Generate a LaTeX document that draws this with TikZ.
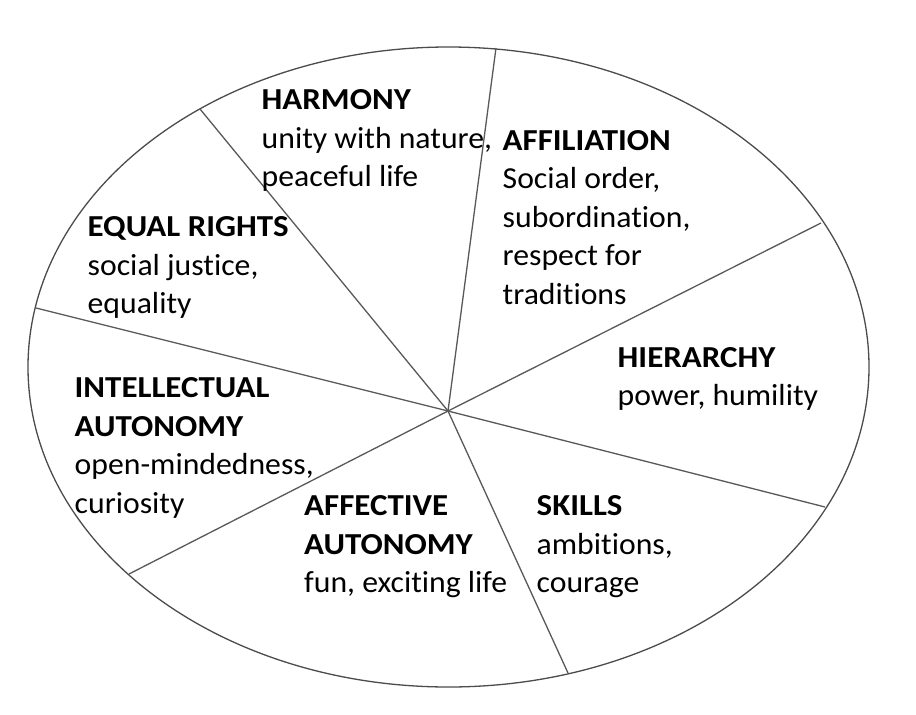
\documentclass[tikz,border=0pt]{standalone}
\usepackage{fontspec}
\setmainfont{Carlito}[Ligatures=NoCommon,FakeStretch=1.04,BoldFeatures={FakeStretch=1.08}]
\begin{document}
\begin{tikzpicture}[x=1pt,y=-1pt,
  rim/.style={draw=black!70,line width=1.3pt},
  spoke/.style={draw=black!65,line width=1.3pt},
  lbl/.style={anchor=base west,inner sep=0pt,text width=400pt,align=flush left,
    font=\fontsize{30.5}{38.5}\selectfont}]
\useasboundingbox[fill=white] (0,0) rectangle (916,715);
\draw[rim] (448.5,367) ellipse [x radius=420.5, y radius=320];
\coordinate (c) at (448,411);
\coordinate (p1) at (200,109);
\coordinate (p2) at (496,48);
\coordinate (p3) at (821,223);
\coordinate (p4) at (825,507);
\coordinate (p5) at (568,673);
\coordinate (p6) at (129,574);
\coordinate (p7) at (36,308);
\foreach \p in {p1,p2,p3,p4,p5,p6,p7} \draw[spoke] (c) -- (\p);
\node[lbl] (harmony) at (261.5,109.5) {\textbf{HARMONY}\\unity with nature,\\peaceful life};
\node[lbl] (affil) at (502.5,150) {\textbf{AFFILIATION}\\Social order,\\subordination,\\respect for\\traditions};
\node[lbl] (equal) at (87.5,236.5) {\textbf{EQUAL RIGHTS}\\social justice,\\equality};
\node[lbl] (hier) at (617.5,367) {\textbf{HIERARCHY}\\power, humility};
\node[lbl] (intel) at (74.5,397.5) {\textbf{INTELLECTUAL}\\\textbf{AUTONOMY}\\open-mindedness,\\curiosity};
\node[lbl] (affect) at (304,515.5) {\textbf{AFFECTIVE}\\\textbf{AUTONOMY}\\fun, exciting life};
\node[lbl] (skills) at (536.5,515.5) {\textbf{SKILLS}\\ambitions,\\courage};
\end{tikzpicture}
\end{document}
